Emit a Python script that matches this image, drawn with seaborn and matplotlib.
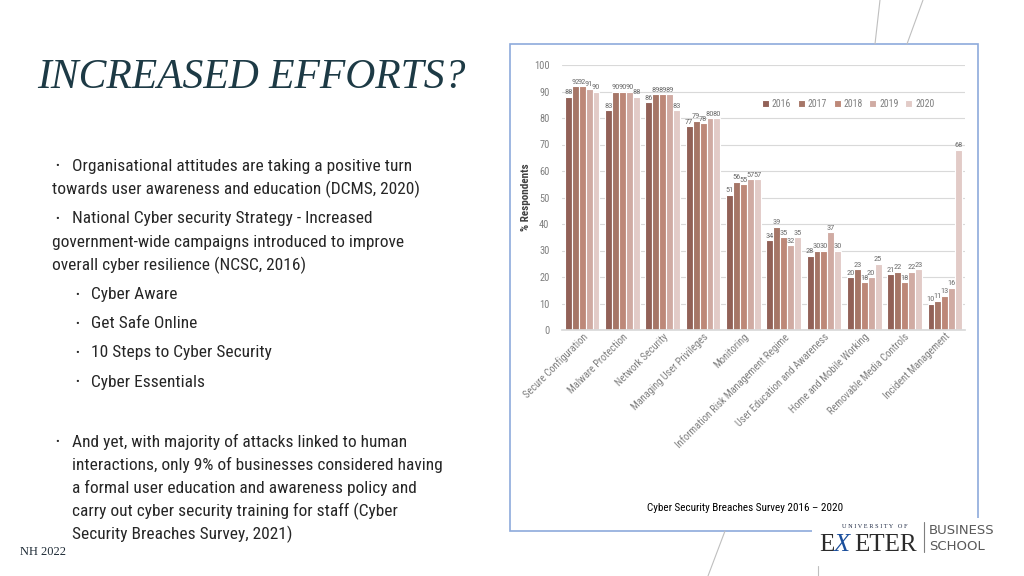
import matplotlib
matplotlib.use("Agg")
import matplotlib.pyplot as plt
import matplotlib.patches as mpatches
from matplotlib.lines import Line2D
from matplotlib import font_manager
import pandas as pd
import seaborn as sns

# ---- data (Cyber Security Breaches Survey 2016-2020) ----
categories = [
    "Secure Configuration", "Malware Protection", "Network Security",
    "Managing User Privileges", "Monitoring",
    "Information Risk Management Regime", "User Education and Awareness",
    "Home and Mobile Working", "Removable Media Controls", "Incident Management",
]
years = ["2016", "2017", "2018", "2019", "2020"]
v2016 = [88, 83, 86, 77, 51, 34, 28, 20, 21, 10]
v2017 = [92, 90, 89, 79, 56, 39, 30, 23, 22, 11]
v2018 = [92, 90, 89, 78, 55, 35, 30, 18, 18, 13]
v2019 = [91, 90, 89, 80, 57, 32, 37, 20, 22, 16]
v2020 = [90, 88, 83, 80, 57, 35, 30, 25, 23, 68]
bar_colors = ["#9c5b4d", "#b1705c", "#c9826c", "#d7a79b", "#e7c8c2"]

rows = []
for yr, vals in zip(years, [v2016, v2017, v2018, v2019, v2020]):
    for c, v in zip(categories, vals):
        rows.append({"category": c, "year": yr, "value": v})
df = pd.DataFrame(rows)


# pick a narrow sans if one is installed, otherwise Roboto
def find_condensed():
    names = sorted({f.name for f in font_manager.fontManager.ttflist})
    for want in ["Roboto Condensed", "Liberation Sans Narrow", "Noto Sans Condensed",
                 "Open Sans Condensed", "DejaVu Sans Condensed"]:
        if want in names:
            return want, True
    for n in names:
        if "Condensed" in n or "Narrow" in n:
            return n, True
    return "Roboto", False


COND_NAME, IS_COND = find_condensed()

W, H = 1024, 576
sns.set_theme(style="white")
COND = [COND_NAME, "DejaVu Sans"]
plt.rcParams["font.family"] = COND
scale = 1.0 if IS_COND else 0.9

fig = plt.figure(figsize=(W / 100, H / 100), dpi=100)
fig.patch.set_facecolor("white")


def fx(px):
    return px / W


def fy(py):
    return 1 - py / H


# ---- chart ----
ax = fig.add_axes([fx(562), fy(330), fx(965) - fx(562), fy(65) - fy(330)])
sns.barplot(data=df, x="category", y="value", hue="year", palette=bar_colors,
            width=0.86, edgecolor="white", linewidth=0.8, ax=ax, errorbar=None)
ax.set_ylim(0, 100)
ax.set_xlim(-0.5, 9.5)
ax.set_yticks(range(0, 101, 10))
ax.yaxis.grid(True, color="#d9d9d9", linewidth=0.8)
ax.set_axisbelow(True)
for s in ["top", "right", "left"]:
    ax.spines[s].set_visible(False)
ax.spines["bottom"].set_color("#d9d9d9")
ax.tick_params(axis="y", labelsize=7.5 * scale, colors="#7f7f7f", length=0, pad=9)
ax.tick_params(axis="x", labelsize=7.5 * scale, colors="#7f7f7f", length=0, pad=1)
plt.setp(ax.get_xticklabels(), rotation=45, ha="right", rotation_mode="anchor")
ax.set_xlabel("")
ax.set_ylabel("% Respondents", fontsize=8 * scale, fontweight="bold", color="#404040")
ax.yaxis.set_label_coords(-0.077, 0.5)
for cont in ax.containers:
    ax.bar_label(cont, fontsize=6.0 * scale, color="#6f6f6f", padding=1)
leg = ax.legend(loc="center", bbox_to_anchor=(0.71, 0.853), ncol=5, fontsize=7 * scale,
                frameon=True, facecolor="white", edgecolor="white", framealpha=1,
                handlelength=0.7, handleheight=0.7, handletextpad=0.3,
                columnspacing=0.7, borderpad=0.3)
for t in leg.get_texts():
    t.set_color("#7f7f7f")

fig.text(fx(745), fy(508), "Cyber Security Breaches Survey 2016 \u2013 2020",
         fontsize=8 * scale, color="black", ha="center", va="center")

# ---- frame and decorative lines ----
fig.add_artist(mpatches.Rectangle((fx(510), fy(531)), fx(978) - fx(510), fy(44) - fy(531),
                                  transform=fig.transFigure, fill=False,
                                  edgecolor="#8eaadb", linewidth=1.2, zorder=0))
for (x0, y0), (x1, y1) in [((880, 0), (875, 44)), ((923, 0), (907, 44)),
                           ((725, 531), (708, 576)), ((818, 566), (818, 576))]:
    fig.add_artist(Line2D([fx(x0), fx(x1)], [fy(y0), fy(y1)], color="#bfbfbf",
                          linewidth=0.8, transform=fig.transFigure))

# ---- slide text ----
fig.text(fx(37), fy(78), "INCREASED EFFORTS?", fontsize=30, style="italic",
         family=["Liberation Serif", "DejaVu Serif"], color="#1d3a45",
         ha="left", va="center")

TXT = "#262626"
FS = 12.5 * scale
lines = [
    (55, 72, 166, True, "Organisational attitudes are taking a positive turn"),
    (None, 52, 189, False, "towards user awareness and education (DCMS, 2020)"),
    (55, 72, 219, True, "National Cyber security Strategy - Increased"),
    (None, 52, 242, False, "government-wide campaigns introduced to improve"),
    (None, 52, 265, False, "overall cyber resilience (NCSC, 2016)"),
    (75, 91, 295, True, "Cyber Aware"),
    (75, 91, 324, True, "Get Safe Online"),
    (75, 91, 353, True, "10 Steps to Cyber Security"),
    (75, 91, 382, True, "Cyber Essentials"),
    (55, 72, 442, True, "And yet, with majority of attacks linked to human"),
    (None, 72, 465, False, "interactions, only 9% of businesses considered having"),
    (None, 72, 488, False, "a formal user education and awareness policy and"),
    (None, 72, 511, False, "carry out cyber security training for staff (Cyber"),
    (None, 72, 534, False, "Security Breaches Survey, 2021)"),
]
for bx, tx, y, bullet, s in lines:
    if bullet:
        fig.text(fx(bx), fy(y), "\u2022", fontsize=8, color=TXT, ha="left", va="center")
    fig.text(fx(tx), fy(y), s, fontsize=FS, color=TXT, ha="left", va="center")

fig.text(fx(20), fy(552), "NH 2022", fontsize=9,
         family=["Liberation Serif", "DejaVu Serif"], color="#1d2a35",
         ha="left", va="center")

# ---- logo ----
SERIF = ["Liberation Serif", "DejaVu Serif"]
fig.add_artist(mpatches.Rectangle((fx(812), fy(562)), fx(1000) - fx(812), fy(518) - fy(562),
                                  transform=fig.transFigure, facecolor="white",
                                  edgecolor="none", zorder=2))
fig.text(fx(875), fy(527), "U N I V E R S I T Y   O F", fontsize=4.5,
         family=SERIF, color="#1f2a44", ha="center", va="center", zorder=3)
fig.text(fx(819), fy(551), "E", fontsize=18, family=SERIF, color="#2b2b2b",
         ha="left", va="baseline", zorder=3)
fig.text(fx(834), fy(551), "X", fontsize=19, family=SERIF, style="italic",
         color="#1b4f9c", ha="left", va="baseline", zorder=3)
fig.text(fx(854), fy(551), "ETER", fontsize=18, family=SERIF, color="#2b2b2b",
         ha="left", va="baseline", zorder=3)
fig.add_artist(Line2D([fx(924), fx(924)], [fy(522), fy(552)], color="#7f7f7f",
                      linewidth=0.8, transform=fig.transFigure, zorder=3))
fig.text(fx(929), fy(530), "BUSINESS", fontsize=9.5, family=["DejaVu Sans"],
         color="#595959", ha="left", va="center", zorder=3)
fig.text(fx(929), fy(546), "SCHOOL", fontsize=9.5, family=["DejaVu Sans"],
         color="#595959", ha="left", va="center", zorder=3)

fig.savefig("out.png", dpi=100, facecolor="white")
